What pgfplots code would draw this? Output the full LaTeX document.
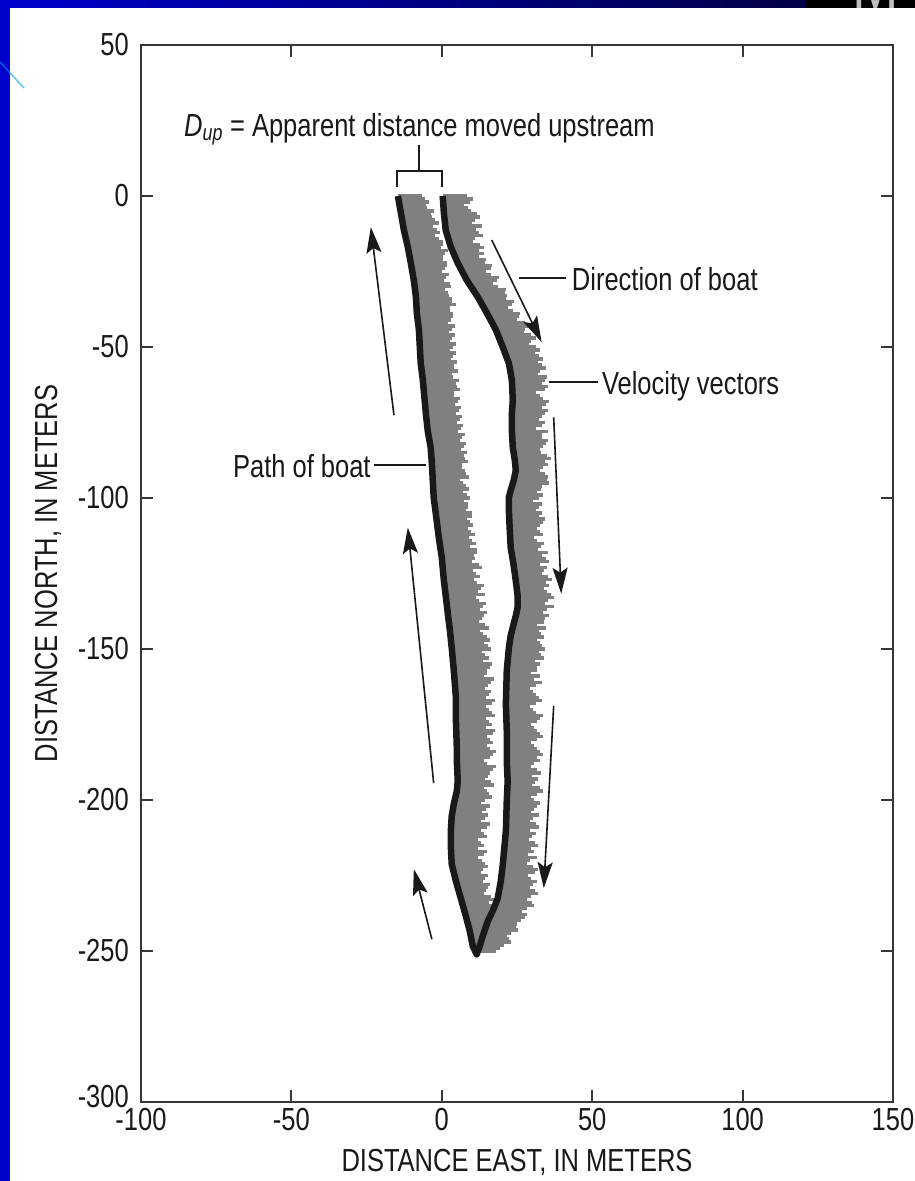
\documentclass[border=0pt]{standalone}
\usepackage{fontspec}
\setmainfont{Liberation Sans}[FakeStretch=0.8]
\usepackage{pgfplots}
\usepackage{pgfplotstable}
\pgfplotsset{compat=1.18}
\usetikzlibrary{arrows.meta}
\definecolor{slideblue}{RGB}{0,0,204}
\definecolor{slidenavy}{RGB}{0,0,70}
\definecolor{vecgray}{RGB}{128,128,130}
\definecolor{axgray}{RGB}{55,55,55}
\definecolor{pathblack}{RGB}{25,25,25}

% downstream leg (right track): x y u
\pgfplotstableread{
x y u
0.3 0 8
0.4 -2 9
0.6 -4 8
0.7 -6 11
0.9 -8 10
1.2 -10 12
1.5 -12 11
2.1 -14 9
2.7 -16 10
3.5 -18 9
4.3 -20 8
5.2 -22 9
6.2 -24 10
7.3 -26 9
8.4 -28 10
9.7 -30 9
11.0 -32 10
12.3 -34 9
13.4 -36 10
14.6 -38 9
15.6 -40 10
16.7 -42 11
17.8 -44 10
18.8 -46 11
19.5 -48 10
20.3 -50 11
21.0 -52 10
21.8 -54 12
22.4 -56 11
22.8 -58 10
23.1 -60 12
23.3 -62 10
23.4 -64 11
23.5 -66 9
23.6 -68 12
23.4 -70 10
23.3 -72 11
23.3 -74 9
23.3 -76 10
23.3 -78 12
23.4 -80 10
23.5 -82 11
23.7 -84 9
24.0 -86 11
24.3 -88 10
24.6 -90 9
24.4 -92 10
24.0 -94 11
23.4 -96 10
22.8 -98 9
22.3 -100 10
22.3 -102 11
22.3 -104 9
22.4 -106 10
22.5 -108 11
22.6 -110 9
22.7 -112 11
22.8 -114 9
22.9 -116 10
23.2 -118 12
23.5 -120 11
23.8 -122 9
24.1 -124 10
24.4 -126 11
24.7 -128 10
24.9 -130 9
25.2 -132 11
25.2 -134 10
25.2 -136 12
24.8 -138 9
24.3 -140 10
23.8 -142 8
23.3 -144 9
22.9 -146 11
22.6 -148 10
22.3 -150 12
22.1 -152 11
21.9 -154 9
21.7 -156 10
21.6 -158 8
21.5 -160 9
21.4 -162 10
21.4 -164 9
21.3 -166 11
21.3 -168 10
21.4 -170 9
21.5 -172 12
21.5 -174 10
21.6 -176 9
21.6 -178 11
21.6 -180 10
21.6 -182 9
21.6 -184 11
21.6 -186 10
21.7 -188 9
21.8 -190 10
21.9 -192 8
21.9 -194 9
21.8 -196 11
21.7 -198 10
21.6 -200 9
21.5 -202 10
21.5 -204 8
21.4 -206 9
21.4 -208 10
21.3 -210 8
21.1 -212 9
20.9 -214 10
20.8 -216 9
20.6 -218 8
20.4 -220 9
20.2 -222 10
19.9 -224 11
19.7 -226 10
19.4 -228 11
19.0 -230 12
18.7 -232 11
17.9 -234 12
17.2 -236 11
16.3 -238 12
15.3 -240 11
14.6 -242 10
14.0 -244 9
13.3 -246 9
12.7 -248 8
12.0 -250 6
0.35 -1 10
0.5 -3 7
0.65 -5 9
0.8 -7 12
1.05 -9 9
1.35 -11 10
1.8 -13 12
2.4 -15 8
3.1 -17 11
3.9 -19 10
4.75 -21 10
5.7 -23 11
6.75 -25 8
7.85 -27 11
9.05 -29 8
10.35 -31 11
11.65 -33 10
12.85 -35 11
14.0 -37 8
15.1 -39 11
16.15 -41 9
17.25 -43 12
18.3 -45 9
19.15 -47 12
19.9 -49 9
20.65 -51 12
21.4 -53 11
22.1 -55 10
22.6 -57 12
22.95 -59 9
23.2 -61 11
23.35 -63 12
23.45 -65 8
23.55 -67 10
23.5 -69 11
23.35 -71 12
23.3 -73 10
23.3 -75 11
23.3 -77 8
23.35 -79 10
23.45 -81 12
23.6 -83 10
23.85 -85 9
24.15 -87 12
24.45 -89 11
24.5 -91 8
24.2 -93 11
23.7 -95 12
23.1 -97 10
22.55 -99 11
22.3 -101 8
22.3 -103 10
22.35 -105 11
22.45 -107 12
22.55 -109 10
22.65 -111 10
22.75 -113 8
22.85 -115 11
23.05 -117 9
23.35 -119 10
23.65 -121 12
23.95 -123 11
24.25 -125 9
24.55 -127 12
24.8 -129 11
25.05 -131 10
25.2 -133 12
25.2 -135 9
25.0 -137 10
24.55 -139 11
24.05 -141 10
23.55 -143 11
23.1 -145 10
22.75 -147 9
22.45 -149 11
22.2 -151 10
22.0 -153 12
21.8 -155 11
21.65 -157 10
21.55 -159 11
21.45 -161 12
21.4 -163 8
21.35 -165 10
21.3 -167 12
21.35 -169 8
21.45 -171 10
21.5 -173 11
21.55 -175 8
21.6 -177 10
21.6 -179 12
21.6 -181 8
21.6 -183 10
21.6 -185 12
21.65 -187 11
21.75 -189 8
21.85 -191 11
21.9 -193 10
21.85 -195 8
21.75 -197 12
21.65 -199 8
21.55 -201 11
21.5 -203 9
21.45 -205 11
21.4 -207 8
21.35 -209 11
21.2 -211 10
21.0 -213 8
20.85 -215 11
20.7 -217 10
20.5 -219 11
20.3 -221 8
20.05 -223 12
19.8 -225 9
19.55 -227 12
19.2 -229 10
18.85 -231 13
18.3 -233 10
17.55 -235 13
16.75 -237 10
15.8 -239 12
14.95 -241 10
14.3 -243 11
13.65 -245 8
13.0 -247 10
12.35 -249 7
}\rightvec

% upstream leg (left track): x y u
\pgfplotstableread{
x y u
11.2 -250 5
10.2 -248 7
9.8 -246 8
9.4 -244 9
8.9 -242 8
8.4 -240 10
7.9 -238 9
7.3 -236 11
6.7 -234 9
6.2 -232 10
5.6 -230 9
5.0 -228 11
4.5 -226 10
4.0 -224 9
3.5 -222 12
3.2 -220 10
3.1 -218 11
3.0 -216 9
3.0 -214 10
3.0 -212 12
3.0 -210 10
3.1 -208 13
3.2 -206 11
3.5 -204 10
3.9 -202 12
4.3 -200 10
4.8 -198 11
5.1 -196 9
5.3 -194 11
5.2 -192 10
5.1 -190 12
5.0 -188 10
5.0 -186 11
5.0 -184 13
5.0 -182 10
4.9 -180 11
4.9 -178 12
4.8 -176 10
4.7 -174 11
4.7 -172 13
4.7 -170 11
4.7 -168 12
4.7 -166 10
4.5 -164 12
4.4 -162 11
4.2 -160 13
4.1 -158 11
3.9 -156 12
3.7 -154 10
3.5 -152 11
3.3 -150 13
3.1 -148 11
3.0 -146 12
2.7 -144 10
2.5 -142 12
2.2 -140 11
2.0 -138 13
1.7 -136 12
1.5 -134 11
1.3 -132 13
1.0 -130 12
0.8 -128 11
0.6 -126 12
0.4 -124 10
0.2 -122 12
0.0 -120 11
-0.3 -118 12
-0.6 -116 10
-0.9 -114 11
-1.1 -112 12
-1.4 -110 10
-1.6 -108 11
-1.9 -106 12
-2.1 -104 10
-2.4 -102 11
-2.7 -100 12
-2.8 -98 10
-2.9 -96 11
-3.0 -94 9
-3.1 -92 11
-3.2 -90 10
-3.3 -88 12
-3.5 -86 11
-3.6 -84 10
-3.9 -82 12
-4.3 -80 11
-4.6 -78 10
-4.9 -76 12
-5.1 -74 11
-5.3 -72 10
-5.5 -70 12
-5.7 -68 11
-5.9 -66 10
-6.0 -64 12
-6.2 -62 11
-6.4 -60 10
-6.7 -58 12
-6.9 -56 11
-7.1 -54 10
-7.2 -52 12
-7.3 -50 11
-7.4 -48 10
-7.5 -46 12
-7.6 -44 11
-7.9 -42 10
-8.2 -40 12
-8.3 -38 11
-8.4 -36 13
-8.6 -34 12
-8.8 -32 11
-9.0 -30 12
-9.3 -28 10
-9.6 -26 12
-10.0 -24 11
-10.3 -22 12
-10.7 -20 11
-11.1 -18 13
-11.5 -16 12
-12.0 -14 11
-12.5 -12 12
-12.8 -10 10
-13.2 -8 11
-13.5 -6 10
-13.9 -4 9
-14.3 -2 10
-14.6 0 8
10.7 -249 6
10.0 -247 8
9.6 -245 7
9.15 -243 10
8.65 -241 9
8.15 -239 11
7.6 -237 8
7.0 -235 10
6.45 -233 11
5.9 -231 8
5.3 -229 10
4.75 -227 9
4.25 -225 11
3.75 -223 10
3.35 -221 11
3.15 -219 9
3.05 -217 12
3.0 -215 11
3.0 -213 9
3.0 -211 11
3.05 -209 12
3.15 -207 10
3.35 -205 12
3.7 -203 11
4.1 -201 9
4.55 -199 12
4.95 -197 10
5.2 -195 12
5.25 -193 9
5.15 -191 11
5.05 -189 13
5.0 -187 9
5.0 -185 12
5.0 -183 11
4.95 -181 12
4.9 -179 10
4.85 -177 13
4.75 -175 12
4.7 -173 10
4.7 -171 12
4.7 -169 10
4.7 -167 13
4.6 -165 11
4.45 -163 10
4.3 -161 12
4.15 -159 10
4.0 -157 11
3.8 -155 13
3.6 -153 12
3.4 -151 10
3.2 -149 12
3.05 -147 13
2.85 -145 11
2.6 -143 13
2.35 -141 10
2.1 -139 12
1.85 -137 11
1.6 -135 13
1.4 -133 10
1.15 -131 11
0.9 -129 13
0.7 -127 10
0.5 -125 11
0.3 -123 13
0.1 -121 10
-0.15 -119 11
-0.45 -117 12
-0.75 -115 12
-1.0 -113 10
-1.25 -111 11
-1.5 -109 12
-1.75 -107 10
-2.0 -105 12
-2.25 -103 11
-2.55 -101 10
-2.75 -99 11
-2.85 -97 12
-2.95 -95 10
-3.05 -93 12
-3.15 -91 11
-3.25 -89 10
-3.4 -87 11
-3.55 -85 12
-3.75 -83 11
-4.1 -81 10
-4.45 -79 12
-4.75 -77 11
-5.0 -75 10
-5.2 -73 12
-5.4 -71 11
-5.6 -69 10
-5.8 -67 12
-5.95 -65 10
-6.1 -63 11
-6.3 -61 12
-6.55 -59 10
-6.8 -57 11
-7.0 -55 12
-7.15 -53 11
-7.25 -51 10
-7.35 -49 12
-7.45 -47 11
-7.55 -45 10
-7.75 -43 12
-8.05 -41 11
-8.25 -39 12
-8.35 -37 11
-8.5 -35 12
-8.7 -33 11
-8.9 -31 10
-9.15 -29 12
-9.45 -27 11
-9.8 -25 10
-10.15 -23 12
-10.5 -21 11
-10.9 -19 12
-11.3 -17 11
-11.75 -15 12
-12.25 -13 10
-12.65 -11 11
-13.0 -9 12
-13.35 -7 10
-13.7 -5 11
-14.1 -3 9
-14.45 -1 9
}\leftvec

\begin{document}
\begin{tikzpicture}
% slide background
\fill[white] (0bp,0bp) rectangle (915bp,1181bp);
\fill[slideblue] (0bp,0bp) rectangle (10bp,1181bp);
\shade[left color=slideblue, right color=slidenavy] (0bp,1173bp) rectangle (805bp,1181bp);
\fill[black] (805bp,1173bp) rectangle (915bp,1181bp);
\begin{scope}
\clip (805bp,1173bp) rectangle (915bp,1181bp);
\node[anchor=base west, inner sep=0pt, text=black!25, font=\fontsize{70}{70}\selectfont] at (852bp,1172bp) {M};
\end{scope}
\draw[blue!40!cyan, opacity=0.6, line width=1.5bp] (0bp,1119bp) -- (24bp,1093bp);

\begin{axis}[
  at={(141bp,79bp)}, anchor=south west,
  width=752bp, height=1057bp, scale only axis,
  xmin=-100, xmax=150, ymin=-300, ymax=50,
  xtick={-100,-50,0,50,100,150},
  ytick={-250,-200,-150,-100,-50,0,50},
  extra y ticks={-300},
  extra y tick style={yticklabel style={yshift=5bp}},
  tick align=inside, major tick length=12bp,
  axis line style={line width=2.5bp, draw=axgray},
  every tick/.style={line width=2bp, draw=axgray},
  tick label style={font=\fontsize{32}{32}\selectfont, text=black!90},
  /pgf/number format/assume math mode=true,
  xticklabel style={inner sep=0pt, yshift=-6bp},
  yticklabel style={inner sep=0pt, xshift=-12bp},
  xlabel={DISTANCE EAST, IN METERS},
  ylabel={DISTANCE NORTH, IN METERS},
  label style={font=\fontsize{32}{32}\selectfont, text=black!90},
  xlabel style={at={(axis description cs:0.5,-0.0568)}, anchor=center},
  ylabel style={at={(axis description cs:-0.1237,0.5)}, anchor=center},
  clip=false,
]
% velocity vectors
\addplot[vecgray, line width=3.4bp, mark=none, quiver={u=\thisrow{u}, v=0}] table[x=x,y=y] {\rightvec};
\addplot[vecgray, line width=3.4bp, mark=none, quiver={u=\thisrow{u}, v=0}] table[x=x,y=y] {\leftvec};
% path of boat
\addplot[pathblack, line width=6.5bp, line join=round, mark=none] coordinates {
(0.3,0) (0.7,-5.6) (1.3,-11.3) (3.0,-16.9) (5.3,-22.2) (8.3,-27.9) (12.0,-33.5)
(15.0,-38.8) (18.0,-44.4) (20.3,-50.1) (22.3,-55.4) (23.3,-61.0) (23.6,-67.7)
(23.3,-72.0) (23.3,-77.6) (23.6,-83.3) (24.3,-87.6) (24.6,-90.9) (23.9,-94.2)
(22.9,-97.5) (22.3,-99.8) (22.3,-104.1) (22.6,-110.8) (22.9,-116.4) (23.9,-122.4)
(24.6,-127.4) (25.2,-132.3) (25.2,-136.3) (24.6,-139.0) (23.9,-141.6) (22.9,-145.6)
(22.3,-149.6) (21.6,-157.2) (21.3,-168.2) (21.6,-177.1) (21.6,-187.1) (21.9,-193.7)
(21.6,-200.3) (21.3,-210.3) (20.3,-221.2) (19.6,-226.9) (18.6,-232.5) (16.9,-236.8)
(15.3,-240.1) (13.6,-245.1) (12.6,-248.4) (11.6,-251.1)
(10.3,-248.4) (9.3,-243.4) (8.0,-238.5) (6.3,-232.5) (4.7,-226.9) (3.3,-221.2)
(3.0,-215.3) (3.0,-210.3) (3.3,-205.3) (4.0,-201.3) (5.0,-197.0) (5.3,-193.7)
(5.0,-187.1) (5.0,-182.8) (4.7,-173.8) (4.7,-166.2) (4.0,-157.2) (3.3,-149.6)
(2.7,-143.9) (2.0,-138.3) (1.3,-132.3) (0.7,-127.4) (0.0,-119.7) (-1.0,-113.1)
(-2.0,-105.1) (-2.7,-99.8) (-3.0,-94.2) (-3.3,-88.6) (-3.7,-83.3) (-4.7,-77.6)
(-5.3,-72.0) (-6.3,-61.0) (-7.0,-55.4) (-7.3,-50.1) (-7.6,-44.4) (-8.3,-38.8)
(-8.6,-33.5) (-9.3,-27.9) (-10.3,-22.2) (-11.3,-16.9) (-12.6,-11.3) (-13.6,-5.6)
(-14.6,0)
};
% direction arrows
\draw[pathblack, line width=1.6bp, -{Stealth[length=26bp,width=15bp,inset=5bp]}] (axis cs:-15.9,-72.6) -- (axis cs:-23.6,-10.3);
\draw[pathblack, line width=1.6bp, -{Stealth[length=26bp,width=15bp,inset=5bp]}] (axis cs:16.6,-14.6) -- (axis cs:33.2,-48.4);
\draw[pathblack, line width=1.6bp, -{Stealth[length=26bp,width=15bp,inset=5bp]}] (axis cs:37.2,-73.3) -- (axis cs:39.7,-131.7);
\draw[pathblack, line width=1.6bp, -{Stealth[length=26bp,width=15bp,inset=5bp]}] (axis cs:-2.7,-194.4) -- (axis cs:-11.3,-109.8);
\draw[pathblack, line width=1.6bp, -{Stealth[length=26bp,width=15bp,inset=5bp]}] (axis cs:37.2,-168.8) -- (axis cs:33.9,-229.2);
\draw[pathblack, line width=1.6bp, -{Stealth[length=26bp,width=15bp,inset=5bp]}] (axis cs:-3.3,-246.1) -- (axis cs:-9.3,-222.9);
% bracket for D_up
\draw[pathblack, line width=2bp] (axis cs:-15,3) -- (axis cs:-15,8.3) -- (axis cs:0,8.3) -- (axis cs:0,3);
\draw[pathblack, line width=2bp] (axis cs:-7.5,8.3) -- (axis cs:-7.5,17);
% leader lines
\draw[pathblack, line width=2bp] (axis cs:25.6,-27.2) -- (axis cs:41.2,-27.2);
\draw[pathblack, line width=2bp] (axis cs:35.5,-61.7) -- (axis cs:51.8,-61.7);
\draw[pathblack, line width=2bp] (axis cs:-22.6,-89.2) -- (axis cs:-5.3,-89.2);
% annotation texts
\node[anchor=base west, inner sep=0pt, font=\fontsize{32}{32}\selectfont, text=black!90] at (axis cs:-85.7,19.6) {\textit{D}\textsubscript{\textit{up}} = Apparent distance moved upstream};
\node[anchor=base west, inner sep=0pt, font=\fontsize{32}{32}\selectfont, text=black!90] at (axis cs:43.2,-31.2) {Direction of boat};
\node[anchor=base west, inner sep=0pt, font=\fontsize{32}{32}\selectfont, text=black!90] at (axis cs:53.2,-65.7) {Velocity vectors};
\node[anchor=base east, inner sep=0pt, font=\fontsize{32}{32}\selectfont, text=black!90] at (axis cs:-23.6,-93.2) {Path of boat};
\end{axis}
\pgfresetboundingbox
\path[use as bounding box] (0bp,0bp) rectangle (915bp,1181bp);
\end{tikzpicture}
\end{document}
